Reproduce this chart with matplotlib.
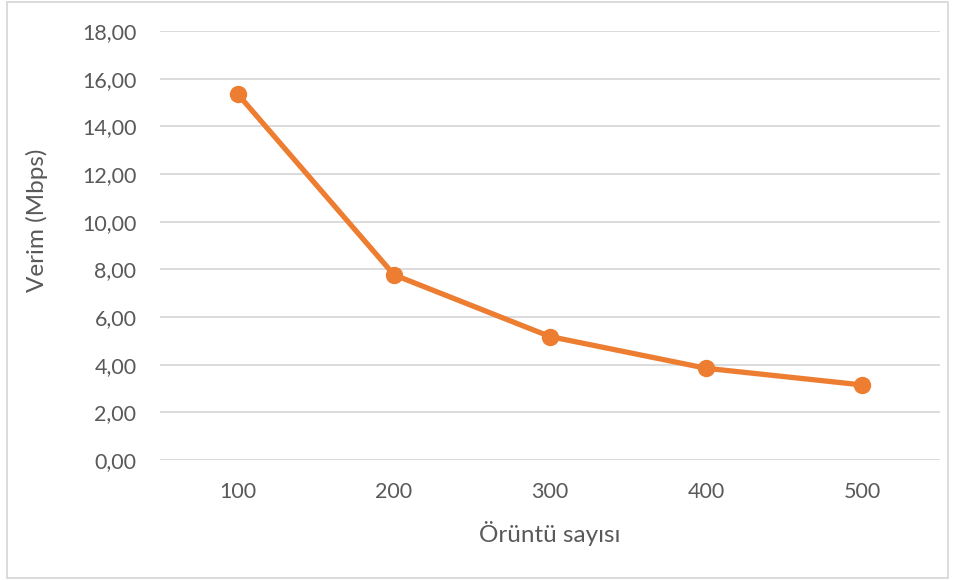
import numpy as np
import matplotlib.pyplot as plt
from matplotlib.patches import Rectangle

# veriler
oruntu = ['100', '200', '300', '400', '500']
verim = [15.34, 7.77, 5.18, 3.85, 3.15]
y_ticks = [0, 2, 4, 6, 8, 10, 12, 14, 16, 18]

plt.rcParams['font.family'] = ['Lato', 'DejaVu Sans']
text_color = '#595959'
grid_color = '#D9D9D9'

fig = plt.figure(figsize=(9.58, 5.8), dpi=100)
ax = fig.add_axes([160 / 958, 1 - 460 / 580, 780 / 958, 429 / 580])

x = np.arange(len(oruntu))
ax.plot(x, verim, color='#ED7D31', linewidth=3.8, marker='o', markersize=11.5,
        solid_capstyle='round', zorder=3)

ax.set_xlim(-0.5, len(oruntu) - 0.5)
ax.set_ylim(0, 18)
ax.set_yticks(y_ticks)
ax.set_yticklabels([f'{v:.2f}'.replace('.', ',') for v in y_ticks])
ax.set_xticks(x)
ax.set_xticklabels(oruntu)

ax.grid(axis='y', color=grid_color, linewidth=1.3)
ax.set_axisbelow(True)
for s in ax.spines.values():
    s.set_visible(False)
ax.tick_params(axis='both', length=0, labelsize=15.5, colors=text_color)
ax.tick_params(axis='y', pad=17)
ax.tick_params(axis='x', pad=16)

# eksen başlıkları
fig.text(37 / 958, 1 - 220 / 580, 'Verim (Mbps)', rotation=90, fontsize=17.5,
         color=text_color, ha='center', va='center')
fig.text(550 / 958, 1 - 534 / 580, 'Örüntü sayısı', fontsize=17.5,
         color=text_color, ha='center', va='center')

# dış çerçeve
fig.patches.append(Rectangle((7 / 958, 2 / 580), 941 / 958, 576 / 580,
                             transform=fig.transFigure, fill=False,
                             edgecolor=grid_color, linewidth=1.3))

plt.savefig('out.png', dpi=100)
plt.close()
